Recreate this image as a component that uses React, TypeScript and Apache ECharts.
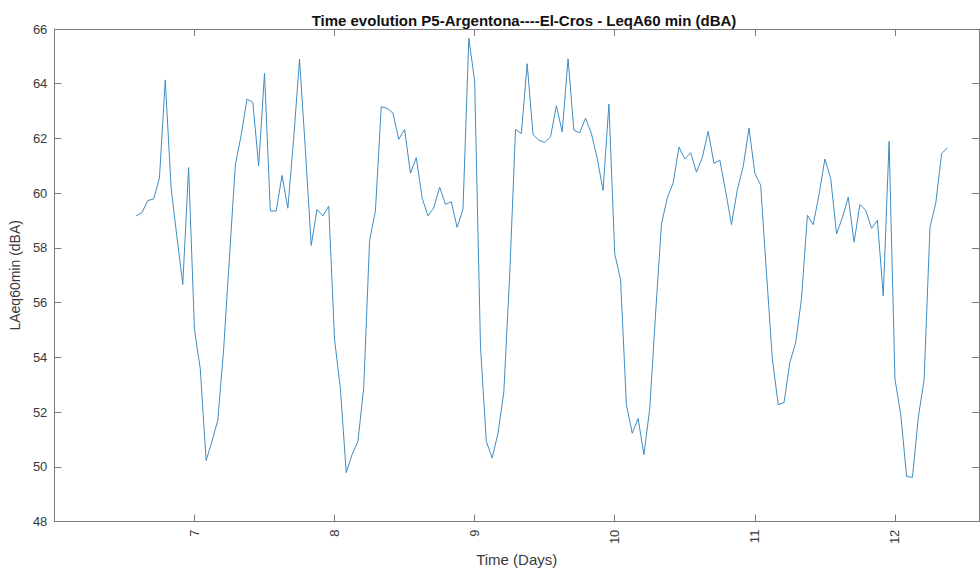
import React, { useEffect, useRef } from "react";
import * as echarts from "echarts";

// Hourly LAeq60min values (dBA), first sample at day 6 + 14 h
const startDay = 6 + 14 / 24;
const stepDay = 1 / 24;
const laeq: number[] = [
  59.17, 59.29, 59.73, 59.79, 60.55, 64.14, 60.19, 58.4, 56.67, 60.94,
  55.02, 53.58, 50.23, 50.93, 51.71, 54.31, 57.67, 61.03, 62.12, 63.44,
  63.32, 61.0, 64.38, 59.35, 59.35, 60.65, 59.45, 62.0, 64.9, 61.6,
  58.09, 59.41, 59.17, 59.53, 54.66, 52.86, 49.79, 50.45, 50.93, 52.9,
  58.27, 59.35, 63.16, 63.1, 62.93, 61.97, 62.33, 60.73, 61.3, 59.83,
  59.17, 59.47, 60.22, 59.59, 59.69, 58.75, 59.41, 65.66, 64.1, 54.4,
  50.93, 50.33, 51.23, 52.74, 57.0, 62.33, 62.18, 64.73, 62.14, 61.94,
  61.85, 62.06, 63.2, 62.24, 64.91, 62.3, 62.21, 62.74, 62.18, 61.27,
  60.1, 63.26, 57.79, 56.83, 52.26, 51.23, 51.77, 50.45, 52.14, 55.62,
  58.87, 59.83, 60.37, 61.69, 61.25, 61.48, 60.77, 61.3, 62.26, 61.09,
  61.21, 60.07, 58.85, 60.13, 60.97, 62.38, 60.73, 60.29, 57.07, 53.94,
  52.28, 52.35, 53.82, 54.54, 56.16, 59.19, 58.85, 59.95, 61.25, 60.53,
  58.51, 59.11, 59.86, 58.21, 59.59, 59.37, 58.72, 59.01, 56.25, 61.9,
  53.22, 51.9, 49.65, 49.62, 51.8, 53.2, 58.75, 59.65, 61.45, 61.66,
];

const xMin = 6;
const xMax = 12.6;
const xInterval = 1;
const yMin = 48;
const yMax = 66;
const yInterval = 2;

const titleText = "Time evolution P5-Argentona----El-Cros - LeqA60 min (dBA)";
const xName = "Time (Days)";
const yName = "LAeq60min (dBA)";

const FONT = "'Liberation Sans', Arial, Helvetica, sans-serif";
const AXIS_COLOR = "#7a7a7a";
const TEXT_COLOR = "#3a3a3a";

export default function App() {
  const ref = useRef<HTMLDivElement>(null);

  useEffect(() => {
    if (!ref.current) return;
    const chart = echarts.init(ref.current, null, { renderer: "svg" });
    const data = laeq.map((v, i) => [startDay + i * stepDay, v]);

    const tickCommon = { show: true, inside: true, length: 7, lineStyle: { color: AXIS_COLOR, width: 1 } };
    const lineCommon = { show: true, onZero: false, lineStyle: { color: AXIS_COLOR, width: 1 } };

    chart.setOption({
      animation: false,
      backgroundColor: "#ffffff",
      textStyle: { fontFamily: FONT },
      title: {
        text: titleText,
        left: 519,
        textAlign: "center",
        top: 8,
        textStyle: { fontFamily: FONT, fontSize: 15, fontWeight: "bold", color: "#111111" },
      },
      grid: { left: 54, right: 1, top: 29, bottom: 44, containLabel: false },
      xAxis: [
        {
          type: "value",
          min: xMin,
          max: xMax,
          interval: xInterval,
          position: "bottom",
          name: xName,
          nameLocation: "middle",
          nameGap: 24,
          nameTextStyle: { fontFamily: FONT, fontSize: 15, color: TEXT_COLOR },
          axisLine: lineCommon,
          axisTick: tickCommon,
          splitLine: { show: false },
          axisLabel: {
            rotate: 90,
            margin: 8,
            fontSize: 13,
            color: TEXT_COLOR,
            fontFamily: FONT,
            showMinLabel: false,
            showMaxLabel: false,
            formatter: (v: number) => (v === xMin || v % 1 !== 0 ? "" : String(v)),
          },
        },
        {
          type: "value",
          min: xMin,
          max: xMax,
          interval: xInterval,
          position: "top",
          axisLine: lineCommon,
          axisTick: tickCommon,
          axisLabel: { show: false },
          splitLine: { show: false },
        },
      ],
      yAxis: [
        {
          type: "value",
          min: yMin,
          max: yMax,
          interval: yInterval,
          position: "left",
          name: yName,
          nameLocation: "middle",
          nameGap: 30,
          nameRotate: 90,
          nameTextStyle: { fontFamily: FONT, fontSize: 14, color: TEXT_COLOR },
          axisLine: lineCommon,
          axisTick: tickCommon,
          splitLine: { show: false },
          axisLabel: { margin: 7, fontSize: 13, color: TEXT_COLOR, fontFamily: FONT },
        },
        {
          type: "value",
          min: yMin,
          max: yMax,
          interval: yInterval,
          position: "right",
          axisLine: lineCommon,
          axisTick: tickCommon,
          axisLabel: { show: false },
          splitLine: { show: false },
        },
      ],
      series: [
        {
          type: "line",
          name: yName,
          xAxisIndex: 0,
          yAxisIndex: 0,
          data,
          showSymbol: false,
          symbol: "none",
          lineStyle: { color: "#3f8cc2", width: 1 },
        },
      ],
    });

    return () => chart.dispose();
  }, []);

  return (
    <div
      ref={ref}
      style={{ position: "absolute", left: 0, top: 0, width: 980, height: 572, background: "#fff" }}
    />
  );
}
